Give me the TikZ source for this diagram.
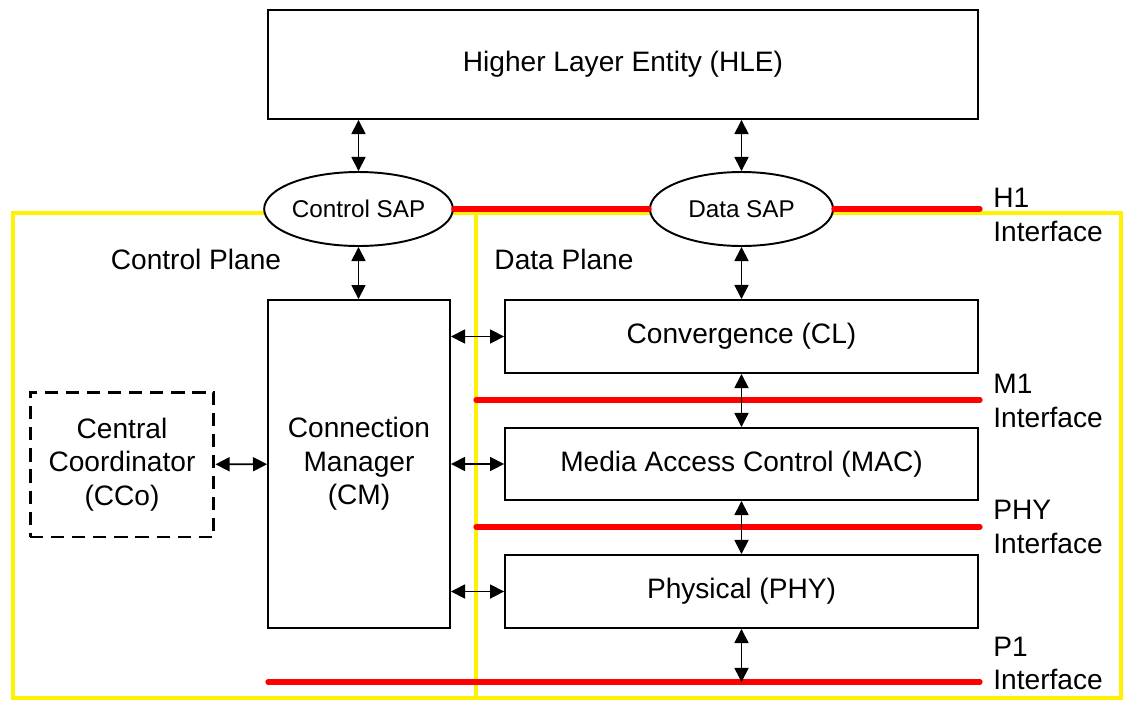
\documentclass[tikz,border=0pt]{standalone}
\usepackage{fontspec}
\setmainfont{Liberation Sans}
\usetikzlibrary{arrows.meta,shapes,positioning}

\begin{document}
\begin{tikzpicture}[x=0.02cm,y=-0.02cm]
\tikzstyle{every node}=[font=\fontsize{16}{19}\selectfont]
\tikzstyle{layer}=[draw, line width=1.1pt, inner sep=0pt, align=center, fill=white]
\tikzstyle{sap}=[draw, ellipse, line width=1.1pt, inner sep=0pt, fill=white, minimum width=3.66cm, minimum height=1.48cm, font=\fontsize{13.8}{16}\selectfont]
\tikzstyle{iface}=[red, line width=3pt, line cap=round]
\tikzstyle{plane}=[yellow, line width=1.8pt]
\tikzstyle{link}=[{Triangle[length=8pt,width=8pt]}-{Triangle[length=8pt,width=8pt]}, line width=0.9pt]
\tikzstyle{ilabel}=[anchor=west, align=left, inner sep=0pt]
\useasboundingbox (0,0) rectangle (1128,700);

% control and data planes
\draw[plane] (13,213) rectangle (476,698);
\draw[plane] (476,213) rectangle (1121,698);

\node[layer, minimum width=14.2cm, minimum height=2.18cm] (hle) at (623,64.5) {Higher Layer Entity (HLE)};
\node[sap] (csap) at (358.5,209) {Control SAP};
\node[sap] (dsap) at (741.5,209) {Data SAP};
\node (cplane) at (196,259) {Control Plane};
\node (dplane) at (564,259) {Data Plane};
\node[layer, minimum width=3.64cm, minimum height=6.56cm] (cm) at (359,464) {Connection\\Manager\\(CM)};
\node[layer, dash pattern=on 7.5pt off 4.5pt, line width=1.7pt, minimum width=3.68cm, minimum height=2.9cm] (cco) at (122,464.5) {Central\\Coordinator\\(CCo)};
\node[layer, minimum width=9.46cm, minimum height=1.46cm] (conv) at (741.5,336.5) {Convergence (CL)};
\node[layer, minimum width=9.46cm, minimum height=1.44cm] (mac) at (741.5,464) {Media Access Control (MAC)};
\node[layer, minimum width=9.46cm, minimum height=1.46cm] (phy) at (741.5,591.5) {Physical (PHY)};

% interfaces
\coordinate (h1end) at (980,209);
\coordinate (m1a) at (476,400);
\coordinate (m1b) at (980,400);
\coordinate (phya) at (476,527);
\coordinate (phyb) at (980,527);
\coordinate (p1a) at (268,682);
\coordinate (p1b) at (980,682);
\coordinate (p1mid) at (741.5,682);
\draw[iface] (csap) -- (dsap);
\draw[iface] (dsap) -- (h1end);
\draw[iface] (m1a) -- (m1b);
\draw[iface] (phya) -- (phyb);
\draw[iface] (p1a) -- (p1b);
\node[ilabel] (h1lab) at (993,215) {H1\\Interface};
\node[ilabel] (m1lab) at (993,401) {M1\\Interface};
\node[ilabel] (phylab) at (993,527) {PHY\\Interface};
\node[ilabel] (p1lab) at (993,663.5) {P1\\Interface};

% links
\draw[link] (csap.north) -- (csap.north |- hle.south);
\draw[link] (dsap.north) -- (dsap.north |- hle.south);
\draw[link] (csap.south) -- (csap.south |- cm.north);
\draw[link] (dsap) -- (conv);
\draw[link] (conv) -- (mac);
\draw[link] (mac) -- (phy);
\draw[link] (phy) -- (p1mid);
\draw[link] (cm.east |- conv) -- (conv.west);
\draw[link] (cm) -- (mac);
\draw[link] (cm.east |- phy) -- (phy.west);
\draw[link] (cco) -- (cm);
\end{tikzpicture}
\end{document}
